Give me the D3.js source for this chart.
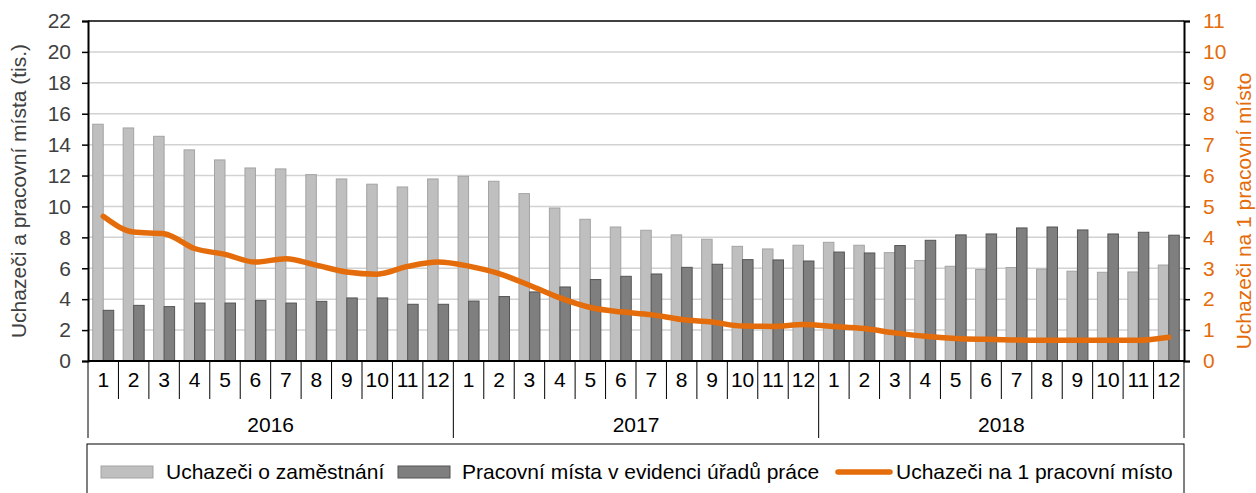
<!DOCTYPE html>
<html>
<head>
<meta charset="utf-8">
<script src="https://cdnjs.cloudflare.com/ajax/libs/d3/7.8.5/d3.min.js"></script>
<style>
  body { margin: 0; background: #fff; }
  svg { font-family: "Liberation Sans", Arial, sans-serif; }
</style>
</head>
<body>
<div id="chart"></div>
<script>
// data
const years = ['2016', '2017', '2018'];
const months = ['1','2','3','4','5','6','7','8','9','10','11','12'];

// Uchazeči o zaměstnání (tis.)
const uchazeci = [
  15.32, 15.08, 14.54, 13.66, 13.01, 12.49, 12.43, 12.06, 11.78, 11.44, 11.26, 11.78,
  11.95, 11.63, 10.83, 9.90, 9.17, 8.67, 8.46, 8.16, 7.88, 7.42, 7.25, 7.49,
  7.68, 7.49, 7.01, 6.50, 6.13, 5.92, 6.05, 5.94, 5.81, 5.74, 5.76, 6.21
];
// Pracovní místa v evidenci úřadů práce (tis.)
const mista = [
  3.28, 3.60, 3.52, 3.75, 3.75, 3.91, 3.75, 3.86, 4.08, 4.08, 3.67, 3.67,
  3.88, 4.17, 4.47, 4.79, 5.27, 5.48, 5.63, 6.06, 6.26, 6.56, 6.54, 6.47,
  7.05, 6.99, 7.47, 7.81, 8.16, 8.22, 8.61, 8.67, 8.48, 8.22, 8.33, 8.14
];
// Uchazeči na 1 pracovní místo
const naMisto = [
  4.68, 4.17, 4.12, 3.64, 3.45, 3.20, 3.31, 3.10, 2.88, 2.81, 3.06, 3.20,
  3.07, 2.83, 2.45, 2.04, 1.73, 1.59, 1.50, 1.34, 1.26, 1.13, 1.12, 1.18,
  1.12, 1.05, 0.91, 0.80, 0.73, 0.70, 0.68, 0.67, 0.67, 0.67, 0.67, 0.77
];
const leftTicks = [0, 2, 4, 6, 8, 10, 12, 14, 16, 18, 20, 22];
const rightTicks = [0, 1, 2, 3, 4, 5, 6, 7, 8, 9, 10, 11];
const seriesNames = ['Uchazeči o zaměstnání', 'Pracovní místa v evidenci úřadů práce', 'Uchazeči na 1 pracovní místo'];

const width = 1256, height = 493;
const margin = {top: 21, right: 72, bottom: 132, left: 88};
const fontSize = 21;
const colors = {
  light: '#bfbfbf', lightStroke: '#a3a3a3',
  dark: '#7f7f7f', darkStroke: '#555555',
  orange: '#e46c0a', grid: '#d2d2d2', text: '#404040'
};

const data = [];
years.forEach((y, yi) => months.forEach((m, mi) => {
  const i = yi * 12 + mi;
  data.push({key: y + '-' + m, year: y, month: m, u: uchazeci[i], p: mista[i], r: naMisto[i]});
}));

const svg = d3.select('#chart').append('svg')
    .attr('width', width)
    .attr('height', height);

const x0 = margin.left, x1 = width - margin.right;
const yTop = margin.top, yBot = height - margin.bottom;

const x = d3.scaleBand()
    .domain(data.map(d => d.key))
    .range([x0, x1]);

const xs = d3.scaleBand()
    .domain(['u', 'p'])
    .range([0, x.bandwidth()])
    .paddingOuter(0.45);

const yL = d3.scaleLinear().domain([0, 22]).range([yBot, yTop]);
const yR = d3.scaleLinear().domain([0, 11]).range([yBot, yTop]);

// gridlines
svg.append('g')
  .selectAll('line')
  .data(leftTicks.filter(t => t > 0 && t < 22))
  .join('line')
    .attr('x1', x0).attr('x2', x1)
    .attr('y1', d => yL(d)).attr('y2', d => yL(d))
    .attr('stroke', colors.grid)
    .attr('stroke-width', 1.5);

// bars
const bars = svg.append('g');
bars.selectAll('rect.u')
  .data(data)
  .join('rect')
    .attr('class', 'u')
    .attr('x', d => x(d.key) + xs('u'))
    .attr('y', d => yL(d.u))
    .attr('width', xs.bandwidth())
    .attr('height', d => yBot - yL(d.u))
    .attr('fill', colors.light)
    .attr('stroke', colors.lightStroke)
    .attr('stroke-width', 1);

bars.selectAll('rect.p')
  .data(data)
  .join('rect')
    .attr('class', 'p')
    .attr('x', d => x(d.key) + xs('p'))
    .attr('y', d => yL(d.p))
    .attr('width', xs.bandwidth())
    .attr('height', d => yBot - yL(d.p))
    .attr('fill', colors.dark)
    .attr('stroke', colors.darkStroke)
    .attr('stroke-width', 1);

// ratio line
const line = d3.line()
    .x(d => x(d.key) + x.bandwidth() / 2)
    .y(d => yR(d.r))
    .curve(d3.curveMonotoneX);

svg.append('path')
    .datum(data)
    .attr('d', line)
    .attr('fill', 'none')
    .attr('stroke', colors.orange)
    .attr('stroke-width', 5.5)
    .attr('stroke-linecap', 'round')
    .attr('stroke-linejoin', 'round');

// top border
svg.append('line')
    .attr('x1', x0).attr('x2', x1)
    .attr('y1', yTop).attr('y2', yTop)
    .attr('stroke', '#000').attr('stroke-width', 1.5);

// left axis
const gL = svg.append('g')
    .attr('transform', `translate(${x0},0)`)
    .call(d3.axisLeft(yL).tickValues(leftTicks).tickSize(6).tickPadding(11));
gL.select('.domain').attr('stroke', '#000').attr('stroke-width', 2);
gL.selectAll('.tick line').attr('stroke', '#000').attr('stroke-width', 1.5);
gL.selectAll('.tick text')
    .attr('font-size', fontSize)
    .attr('fill', colors.text)
    .attr('font-family', '"Liberation Sans", Arial, sans-serif');

// right axis
const gR = svg.append('g')
    .attr('transform', `translate(${x1},0)`)
    .call(d3.axisRight(yR).tickValues(rightTicks).tickSize(6).tickPadding(13));
gR.select('.domain').attr('stroke', '#000').attr('stroke-width', 2);
gR.selectAll('.tick line').attr('stroke', '#000').attr('stroke-width', 1.5);
gR.selectAll('.tick text')
    .attr('font-size', fontSize)
    .attr('fill', colors.orange)
    .attr('font-family', '"Liberation Sans", Arial, sans-serif');

// category axis
const gX = svg.append('g');
gX.append('line')
    .attr('x1', x0).attr('x2', x1)
    .attr('y1', yBot).attr('y2', yBot)
    .attr('stroke', '#000').attr('stroke-width', 2);

gX.selectAll('line.msep')
  .data(data.filter(d => d.month !== '1'))
  .join('line')
    .attr('class', 'msep')
    .attr('x1', d => x(d.key)).attr('x2', d => x(d.key))
    .attr('y1', yBot).attr('y2', yBot + 38)
    .attr('stroke', '#000').attr('stroke-width', 1);

const yearEdges = data.filter(d => d.month === '1').map(d => x(d.key)).concat([x1]);
gX.selectAll('line.ysep')
  .data(yearEdges)
  .join('line')
    .attr('class', 'ysep')
    .attr('x1', d => d).attr('x2', d => d)
    .attr('y1', yBot).attr('y2', yBot + 77)
    .attr('stroke', '#000').attr('stroke-width', 1);

gX.selectAll('text.month')
  .data(data)
  .join('text')
    .attr('class', 'month')
    .attr('x', d => x(d.key) + x.bandwidth() / 2)
    .attr('y', yBot + 26)
    .attr('text-anchor', 'middle')
    .attr('font-size', fontSize)
    .attr('fill', '#000')
    .text(d => d.month);

gX.selectAll('text.year')
  .data(years)
  .join('text')
    .attr('class', 'year')
    .attr('x', y => {
      const first = x(y + '-1'), last = x(y + '-12') + x.bandwidth();
      return (first + last) / 2;
    })
    .attr('y', yBot + 71)
    .attr('text-anchor', 'middle')
    .attr('font-size', fontSize)
    .attr('fill', '#000')
    .text(y => y);

// axis titles
svg.append('text')
    .attr('transform', `translate(26,${(yTop + yBot) / 2}) rotate(-90)`)
    .attr('text-anchor', 'middle')
    .attr('font-size', fontSize)
    .attr('fill', colors.text)
    .text('Uchazeči a pracovní místa (tis.)');

svg.append('text')
    .attr('transform', `translate(1251,211) rotate(-90)`)
    .attr('text-anchor', 'middle')
    .attr('font-size', fontSize)
    .attr('fill', colors.orange)
    .text('Uchazeči na 1 pracovní místo');

// legend
const lg = svg.append('g');
lg.append('rect')
    .attr('x', 87).attr('y', 444)
    .attr('width', x1 - 87).attr('height', 60)
    .attr('fill', 'none')
    .attr('stroke', '#000').attr('stroke-width', 1);

const legendItems = [
  {name: seriesNames[0], type: 'bar', fill: colors.light, stroke: colors.lightStroke, sx: 101, tx: 166},
  {name: seriesNames[1], type: 'bar', fill: colors.dark, stroke: colors.darkStroke, sx: 398, tx: 462},
  {name: seriesNames[2], type: 'line', fill: colors.orange, stroke: colors.orange, sx: 838, tx: 896}
];
const ly = 472;
legendItems.forEach(it => {
  if (it.type === 'bar') {
    lg.append('rect')
        .attr('x', it.sx).attr('y', ly - 6)
        .attr('width', 52).attr('height', 12)
        .attr('fill', it.fill).attr('stroke', it.stroke).attr('stroke-width', 1);
  } else {
    lg.append('line')
        .attr('x1', it.sx).attr('x2', it.sx + 52)
        .attr('y1', ly).attr('y2', ly)
        .attr('stroke', it.stroke).attr('stroke-width', 5.5)
        .attr('stroke-linecap', 'round');
  }
  lg.append('text')
      .attr('x', it.tx).attr('y', ly)
      .attr('dy', '0.35em')
      .attr('font-size', fontSize)
      .attr('fill', '#000')
      .text(it.name);
});
</script>
</body>
</html>
